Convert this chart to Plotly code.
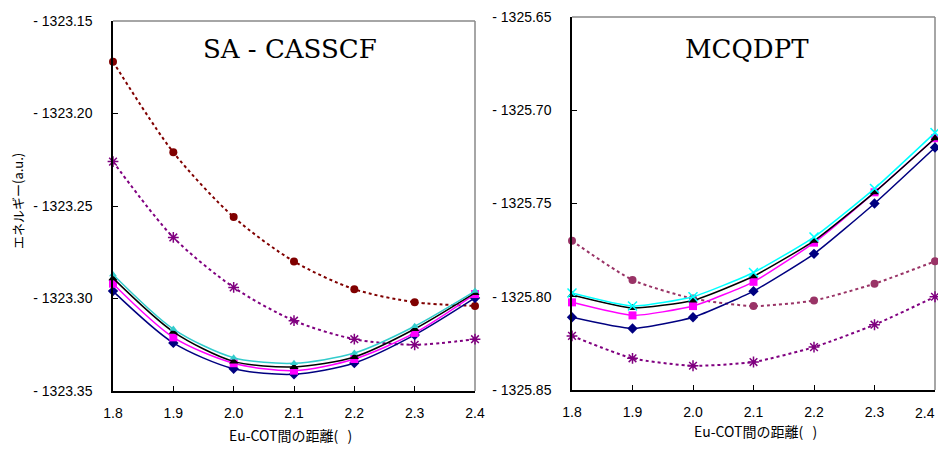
import plotly.graph_objects as go

x = [1.8, 1.9, 2.0, 2.1, 2.2, 2.3, 2.4]

# SA-CASSCF (left)
L_circle = [-1323.172, -1323.221, -1323.256, -1323.280, -1323.295, -1323.302, -1323.304]
L_star = [-1323.226, -1323.267, -1323.294, -1323.312, -1323.322, -1323.325, -1323.322]
L_cyan = [-1323.287, -1323.3165, -1323.332, -1323.335, -1323.3295, -1323.315, -1323.296]
L_black = [-1323.289, -1323.318, -1323.334, -1323.337, -1323.3316, -1323.3165, -1323.297]
L_mag = [-1323.292, -1323.321, -1323.335, -1323.339, -1323.3327, -1323.3186, -1323.2976]
L_navy = [-1323.296, -1323.324, -1323.338, -1323.341, -1323.3349, -1323.3197, -1323.2997]

# MCQDPT (right)
R_circle = [-1325.770, -1325.791, -1325.801, -1325.805, -1325.802, -1325.793, -1325.781]
R_star = [-1325.821, -1325.833, -1325.837, -1325.835, -1325.827, -1325.815, -1325.800]
R_cyan = [-1325.798, -1325.805, -1325.800, -1325.787, -1325.768, -1325.742, -1325.712]
R_black = [-1325.799, -1325.806, -1325.802, -1325.789, -1325.770, -1325.744, -1325.715]
R_mag = [-1325.803, -1325.810, -1325.805, -1325.792, -1325.771, -1325.744, -1325.715]
R_navy = [-1325.811, -1325.817, -1325.811, -1325.797, -1325.777, -1325.750, -1325.720]

L_ticks = [-1323.35, -1323.30, -1323.25, -1323.20, -1323.15]
R_ticks = [-1325.85, -1325.80, -1325.75, -1325.70, -1325.65]
x_ticks = [1.8, 1.9, 2.0, 2.1, 2.2, 2.3, 2.4]

# page body has an 8px default margin; size figure to fit the window without scrollbars
W, H, OFF = 938, 436, 8
def PX(px):
    return (px - OFF) / W
def PY(py):
    return 1 - (py - OFF) / H

fig = go.Figure()

def add(xa, ya, ys, color, symbol, dash, msize=8, lw=1.5, smooth=0.8):
    fig.add_trace(go.Scatter(
        x=x, y=ys, xaxis=xa, yaxis=ya, mode="lines+markers", cliponaxis=False,
        line=dict(color=color, width=lw, dash=dash, shape="spline", smoothing=smooth),
        marker=dict(color=color, symbol=symbol, size=msize,
                    line=dict(color=color, width=1.5 if "open" in symbol else 0)),
        showlegend=False))

add("x", "y", L_circle, "#800000", "circle", "dot", 8, 2)
add("x", "y", L_star, "#800080", "asterisk-open", "dot", 9, 2)
add("x", "y", L_navy, "#000080", "diamond", "solid")
add("x", "y", L_mag, "#FF00FF", "square", "solid")
add("x", "y", L_black, "#000000", "triangle-up", "solid")
add("x", "y", L_cyan, "#33CCCC", "triangle-up", "solid", 7)

add("x2", "y2", R_circle, "#993366", "circle", "dot", 8, 2, 0.6)
add("x2", "y2", R_star, "#800080", "asterisk-open", "dot", 9, 2, 0.6)
add("x2", "y2", R_navy, "#000080", "diamond", "solid", 8, 1.5, 0.5)
add("x2", "y2", R_mag, "#FF00FF", "square", "solid", 8, 1.5, 0.5)
add("x2", "y2", R_black, "#000000", "triangle-up", "solid", 8, 1.5, 0.5)
add("x2", "y2", R_cyan, "#00FFFF", "x-thin-open", "solid", 9, 1.5, 0.5)

tickfont = dict(family="Liberation Sans, Arial", size=14, color="#000")
cjk = "Noto Sans CJK JP, Liberation Sans"
axcommon = dict(ticks="inside", ticklen=5, tickcolor="#000", tickwidth=1, showline=True,
                linecolor="#000", linewidth=1.5, showgrid=False, zeroline=False,
                tickfont=tickfont, automargin=False, ticklabeloverflow="allow")

def ylab(v):
    return "- " + f"{abs(v):.2f}"

x_text = [f"{v:.1f}" for v in x_ticks]
# last label of the right panel is placed as an annotation so it stays inside the visible page
x2_text = x_text[:-1] + [""]

def ann(text, px, py, font, angle=0, xanchor="center"):
    return dict(text=text, xref="paper", yref="paper", x=PX(px), y=PY(py),
                xanchor=xanchor, yanchor="middle", textangle=angle,
                showarrow=False, font=font)

fig.update_layout(
    width=W, height=H, paper_bgcolor="white", plot_bgcolor="white",
    margin=dict(l=0, r=0, t=0, b=0),
    xaxis=dict(domain=[PX(113), PX(475)], anchor="y", range=[1.8, 2.4], tickvals=x_ticks,
               ticktext=x_text, ticklabelstandoff=8, **axcommon),
    xaxis2=dict(domain=[PX(572), PX(935)], anchor="y2", range=[1.8, 2.4], tickvals=x_ticks,
                ticktext=x2_text, ticklabelstandoff=8, **axcommon),
    yaxis=dict(domain=[PY(391), PY(21)], anchor="x", range=[-1323.35, -1323.15],
               tickvals=L_ticks, ticktext=[ylab(v) for v in L_ticks],
               ticklabelstandoff=16, **axcommon),
    yaxis2=dict(domain=[PY(390), PY(17)], anchor="x2", range=[-1325.85, -1325.65],
                tickvals=R_ticks, ticktext=[ylab(v) for v in R_ticks],
                ticklabelstandoff=16, **axcommon),
    annotations=[
        ann("SA - CASSCF", 290, 49, dict(family="DejaVu Serif", size=26, color="#000")),
        ann("MCQDPT", 747, 49, dict(family="DejaVu Serif", size=26, color="#000")),
        ann("エネルギー(a.u.)", 18, 201, dict(family=cjk, size=13, color="#000"), -90),
        ann("Eu-COT間の距離(   )", 290, 435, dict(family=cjk, size=14, color="#000")),
        ann("Eu-COT間の距離(   )", 755, 431, dict(family=cjk, size=14, color="#000")),
        ann(x_text[-1], 937, 413, tickfont, 0, "right"),
    ],
    shapes=[
        dict(type="line", xref="x domain", yref="y domain", x0=0, x1=1, y0=1, y1=1, line=dict(color="#888", width=1.5), layer="below"),
        dict(type="line", xref="x domain", yref="y domain", x0=1, x1=1, y0=0, y1=1, line=dict(color="#888", width=1.5), layer="below"),
        dict(type="line", xref="x2 domain", yref="y2 domain", x0=0, x1=1, y0=1, y1=1, line=dict(color="#888", width=1.5), layer="below"),
        dict(type="line", xref="x2 domain", yref="y2 domain", x0=1, x1=1, y0=0, y1=1, line=dict(color="#888", width=1.5), layer="below"),
    ],
)

fig.write_html("out.html")
